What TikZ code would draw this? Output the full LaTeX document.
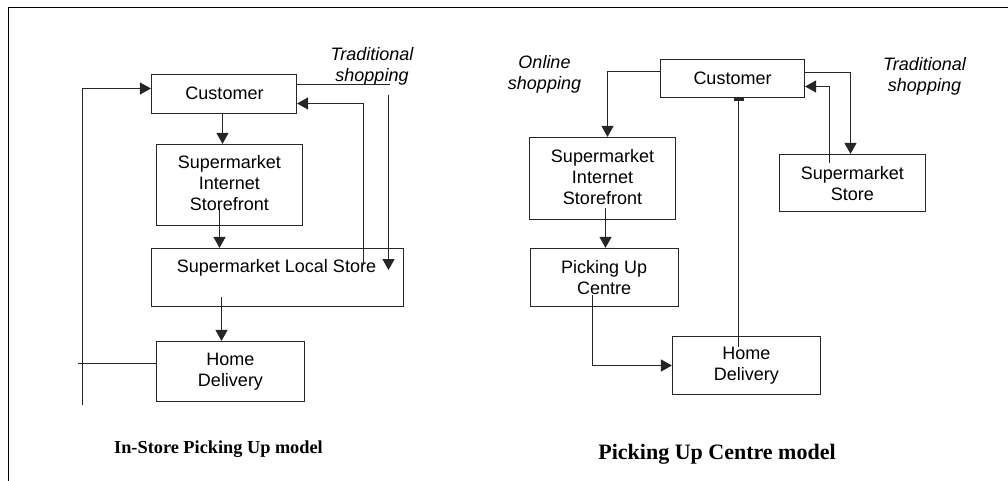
\documentclass[tikz,border=0pt]{standalone}
\usepackage{fontspec}
\setmainfont{Liberation Serif}
\setsansfont{Liberation Sans}
\usetikzlibrary{arrows.meta}
\begin{document}
\begin{tikzpicture}[x=1pt,y=-1pt,
  box/.style={draw=black!85, line width=1.2pt, inner sep=0pt},
  txt/.style={font=\sffamily\fontsize{18}{21}\selectfont, align=center, inner sep=0pt},
  itxt/.style={font=\sffamily\itshape\fontsize{18}{21}\selectfont, align=center, inner sep=0pt},
  captxt/.style={inner sep=0pt},
  ln/.style={line width=1.2pt, draw=black!85},
  arr/.style={ln, -{Triangle[length=11pt,width=12pt]}},
  bararr/.style={ln, -{Rectangle[length=3pt,width=10pt]}}]
\useasboundingbox (0,0) rectangle (1008,481);
\fill[white] (0,0) rectangle (1008,481);
% outer frame
\draw[line width=1.6pt] (8.5,481) -- (8.5,7.5) -- (1008,7.5);

% ---------------- Left diagram ----------------
\node[box, minimum width=145pt, minimum height=39pt] (c1) at (224,94) {};
\node[txt] (c1t) at (224.5,93.5) {Customer};
\node[box, minimum width=146pt, minimum height=81pt] (s1) at (229.5,185) {};
\node[txt] (s1t) at (229.3,183.5) {Supermarket\\Internet\\Storefront};
\node[box, minimum width=252pt, minimum height=58pt] (l1) at (277.5,277.5) {};
\node[txt] (l1t) at (276.5,268) {Supermarket Local Store};
\node[box, minimum width=148pt, minimum height=60pt] (h1) at (230.5,371.5) {};
\node[txt] (h1t) at (230.5,372) {Home\\Delivery};
\node[itxt] (tr1t) at (372,66) {Traditional\\shopping};
\node[captxt, font=\rmfamily\bfseries\fontsize{18.3}{20}\selectfont] (cap1) at (218.5,449) {In-Store Picking Up model};

\coordinate (xa) at (222.5,0);
\coordinate (sb) at (219.5,206.5);
\coordinate (lb) at (221.5,296.5);
\coordinate (tr) at (390,84.5);
\coordinate (td1) at (388.5,95);
\coordinate (td2) at (388.5,270);
\coordinate (rt) at (363.5,265);
\coordinate (ry) at (363.5,103.5);
\coordinate (lh) at (78,363.5);
\coordinate (lbot) at (82.5,405);
\coordinate (ltop) at (82.5,88.5);

\draw[arr] (c1.south -| xa) -- (s1.north -| xa);
\draw[arr] (sb) -- (l1.north -| sb);
\draw[arr] (lb) -- (h1.north -| lb);
\draw[ln] (c1.east |- tr) -- (tr);
\draw[arr] (td1) -- (td2);
\draw[arr] (rt) -- (ry) -- (c1.east |- ry);
\draw[ln] (h1.west |- lh) -- (lh);
\draw[arr] (lbot) -- (ltop) -- (c1.west |- ltop);

% ---------------- Right diagram ----------------
\node[box, minimum width=144pt, minimum height=38pt] (c2) at (732.5,78.5) {};
\node[txt] (c2t) at (732.5,78.2) {Customer};
\node[box, minimum width=146pt, minimum height=82pt] (s2) at (602.5,178.5) {};
\node[txt] (s2t) at (602.5,177) {Supermarket\\Internet\\Storefront};
\node[box, minimum width=148pt, minimum height=58pt] (p2) at (604.5,277.5) {};
\node[txt] (p2t) at (604.2,278) {Picking Up\\Centre};
\node[box, minimum width=148pt, minimum height=58pt] (h2) at (746.5,365.5) {};
\node[txt] (h2t) at (746.3,365.5) {Home\\Delivery};
\node[box, minimum width=146pt, minimum height=57pt] (st2) at (852.5,183) {};
\node[txt] (st2t) at (852.3,183.5) {Supermarket\\Store};
\node[itxt] (ont) at (544.5,74) {Online\\shopping};
\node[itxt] (tr2t) at (924.5,76.5) {Traditional\\shopping};
\node[captxt, font=\rmfamily\bfseries\fontsize{22}{24}\selectfont] (cap2) at (717,454) {Picking Up Centre model};

\coordinate (on) at (607.5,71.5);
\coordinate (sp) at (605.5,208);
\coordinate (pc) at (592.5,295);
\coordinate (pd) at (592.5,365.5);
\coordinate (hc) at (738.5,346.7);
\coordinate (tt) at (850.5,72.5);
\coordinate (rb) at (829.5,163.3);
\coordinate (rtp) at (829.5,86.5);

\draw[arr] (c2.west |- on) -- (on) -- (s2.north -| on);
\draw[arr] (sp) -- (p2.north -| sp);
\draw[arr] (pc) -- (pd) -- (h2.west |- pd);
\draw[bararr] (hc) -- (c2.south -| hc);
\draw[arr] (c2.east |- tt) -- (tt) -- (st2.north -| tt);
\draw[arr] (rb) -- (rtp) -- (c2.east |- rtp);
\end{tikzpicture}
\end{document}
